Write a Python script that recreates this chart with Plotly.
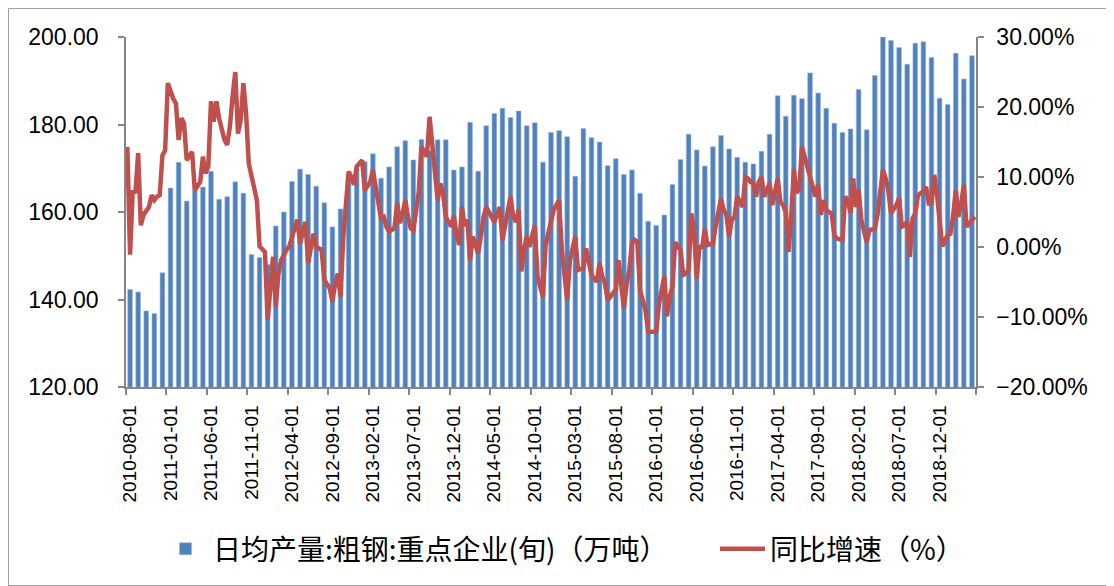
import plotly.graph_objects as go
import pandas as pd

# Categories: monthly bars, dekad (旬) line points
months = [d.strftime("%Y-%m-%d") for d in pd.date_range("2010-08-01", "2019-04-01", freq="MS")]
dekads = [f"{m[:8]}{d}" for m in months for d in ("01", "11", "21")]

# 日均产量:粗钢:重点企业(旬)（万吨）
output = [
    142.3, 141.7, 137.4, 136.8, 146.1, 165.5, 171.4, 162.5, 164.9, 165.7,
    169.3, 162.9, 163.5, 166.9, 164.3, 150.3, 149.6, 148.0, 156.8, 160.0,
    167.0, 169.8, 168.6, 165.9, 162.1, 156.6, 160.7, 168.0, 170.0, 171.5,
    173.3, 167.7, 170.3, 174.9, 176.3, 171.9, 176.6, 174.0, 176.5, 176.5,
    169.6, 170.3, 180.5, 169.3, 179.7, 182.5, 183.7, 181.6, 183.1, 179.7,
    180.4, 171.4, 178.2, 178.6, 177.2, 168.2, 179.1, 177.0, 176.0, 170.6,
    172.2, 168.6, 169.6, 164.3, 157.9, 156.9, 159.3, 166.3, 172.0, 177.8,
    174.2, 170.5, 174.9, 177.5, 174.4, 172.5, 171.4, 171.0, 173.9, 177.8,
    186.6, 181.9, 186.7, 185.9, 191.8, 187.2, 183.7, 180.3, 178.2, 179.0,
    188.0, 178.8, 191.2, 200.0, 199.2, 197.6, 193.8, 198.6, 198.9, 195.3,
    186.0, 184.6, 196.3, 190.4, 195.7,
]

# 同比增速（%）
yoy = [
    14.3, -1.1, 8.1, 7.7, 13.4, 3.1, 4.6, 5.3, 5.7, 7.4,
    6.7, 7.2, 7.4, 13.1, 13.8, 23.4, 22.2, 21.2, 20.5, 15.3,
    18.4, 17.7, 12.4, 12.9, 13.6, 8.1, 8.6, 9.3, 12.9, 10.5,
    11.5, 20.8, 17.9, 20.8, 18.4, 16.7, 15.3, 14.6, 17.2, 21.5,
    25.0, 16.2, 18.1, 23.4, 19.1, 11.9, 9.9, 8.1, 6.7, 0.1,
    -0.4, -0.7, -10.4, -4.7, -1.4, -8.5, -3.8, -1.9, -1.1, -0.4,
    0.1, 1.5, 2.7, 3.9, 0.5, 2.2, 3.6, -2.3, 0.0, 1.9,
    0.0, -0.2, -0.4, -4.7, -5.4, -5.9, -7.8, -5.2, -3.8, -7.1,
    1.3, 6.3, 10.8, 10.0, 8.9, 11.5, 11.9, 12.4, 8.1, 8.6,
    9.3, 11.0, 8.6, 6.3, 4.1, 4.3, 2.9, 2.2, 2.4, 2.7,
    6.3, 3.4, 4.8, 6.7, 4.3, 2.7, 2.4, 5.3, 7.9, 14.3,
    13.6, 12.9, 18.6, 14.8, 11.0, 6.7, 9.1, 7.7, 4.3, 3.6,
    2.9, 4.5, 1.7, 0.3, 5.7, 3.0, 3.9, -1.9, 1.5, 0.3,
    -0.9, 1.5, 4.3, 5.7, 5.0, 4.3, 3.6, 4.6, 5.7, 1.0,
    3.4, 5.3, 7.2, 4.3, 3.6, 5.3, -3.5, -0.4, 1.5, 0.0,
    1.9, 3.1, -4.2, -5.7, -7.1, 0.3, 1.9, 3.4, 5.3, 6.0,
    6.7, -0.4, -4.2, -7.6, -1.9, 0.0, 1.5, -3.3, -3.2, -3.0,
    -0.2, -1.9, -4.0, -4.5, -5.0, -2.3, -4.2, -5.2, -7.6, -7.1,
    -6.6, -6.1, -1.9, -5.7, -8.8, -5.4, -3.3, 0.5, 1.0, 0.7,
    -6.2, -7.6, -9.0, -12.1, -12.1, -12.1, -12.1, -8.1, -6.2, -4.2,
    -9.9, -7.1, -5.7, 0.7, 0.0, -0.4, -4.0, -3.8, -3.3, 4.8,
    2.4, -4.5, 0.0, 0.0, 2.6, 0.3, 0.4, 0.5, 2.9, 5.3,
    6.9, 5.3, 4.6, 1.5, 3.9, 4.3, 7.2, 6.5, 5.7, 10.0,
    9.8, 9.3, 9.1, 7.2, 9.3, 10.0, 7.2, 8.1, 9.1, 6.0,
    7.7, 9.8, 6.5, 6.0, 5.0, -0.7, 4.3, 11.0, 7.7, 8.3,
    14.3, 12.9, 11.0, 9.6, 8.1, 7.2, 8.9, 4.6, 6.7, 5.3,
    5.0, 4.8, 1.7, 1.2, 1.1, 1.0, 7.2, 6.7, 4.8, 9.8,
    5.7, 8.1, 3.9, 2.4, 0.7, 2.4, 2.5, 2.6, 4.6, 7.7,
    11.0, 9.8, 8.1, 4.8, 5.3, 6.0, 7.0, 2.9, 3.1, 3.6,
    -1.4, 4.1, 4.8, 7.4, 7.7, 7.9, 8.6, 6.2, 6.2, 10.3,
    7.7, 3.9, 0.1, 1.0, 1.7, 1.9, 4.3, 8.1, 4.3, 6.2,
    8.9, 2.9, 3.4, 3.9, 4.3,
]

bar_name = "日均产量:粗钢:重点企业(旬)（万吨）"
line_name = "同比增速（%）"

AXIS_COLOR = "#868686"
TICK_FONT = dict(family="Liberation Sans, Arial, sans-serif", size=23, color="#000000")
LEGEND_FONT = dict(family="Noto Sans CJK SC", size=28, color="#000000")

# figure is placed at an 8px page offset by the browser; plot area 850x350
W, H = 1106, 578
L, T, PW, PH = 118, 29, 850, 350

fig = go.Figure()
fig.add_trace(go.Bar(
    x=months, y=output, name=bar_name, legend="legend",
    marker=dict(color="#4F81BD", line=dict(color="#9DB9DE", width=0.6)),
    width=0.58, xaxis="x", yaxis="y",
))
fig.add_trace(go.Scatter(
    x=dekads, y=yoy, name=line_name, mode="lines", legend="legend2",
    line=dict(color="#C0504D", width=4.5),
    xaxis="x2", yaxis="y2",
))

fig.update_layout(
    width=W, height=H,
    margin=dict(l=L, r=W - L - PW, t=T, b=H - T - PH, autoexpand=False),
    paper_bgcolor="white", plot_bgcolor="white",
    showlegend=True,
    legend=dict(
        orientation="h", x=(150 - L) / PW, xanchor="left", y=-0.463, yanchor="middle",
        font=LEGEND_FONT, itemwidth=45,
    ),
    legend2=dict(
        orientation="h", x=(707 - L) / PW, xanchor="left", y=-0.463, yanchor="middle",
        font=LEGEND_FONT, itemwidth=45,
    ),
    xaxis=dict(
        type="category", range=[-0.5, len(months) - 0.5],
        tickson="boundaries", tick0=0, dtick=5, tickangle=-90,
        showline=True, linecolor=AXIS_COLOR, linewidth=1.5,
        ticks="outside", ticklen=6, tickcolor=AXIS_COLOR, tickwidth=1.5,
        ticklabelstandoff=9,
        showgrid=False, zeroline=False,
        tickfont=dict(family="Liberation Sans, Arial, sans-serif", size=19, color="#000000"),
    ),
    xaxis2=dict(
        type="category", range=[-0.5, len(dekads) - 0.5],
        overlaying="x", anchor="y2", side="top", visible=False,
    ),
    yaxis=dict(
        range=[120, 200], dtick=20, tickformat=".2f",
        showline=True, linecolor=AXIS_COLOR, linewidth=1.5,
        ticks="outside", ticklen=6, tickcolor=AXIS_COLOR, tickwidth=1.5,
        ticklabelstandoff=15,
        showgrid=False, zeroline=False, tickfont=TICK_FONT,
    ),
    yaxis2=dict(
        range=[-20, 30], dtick=10, tickformat=".2f", ticksuffix="%",
        overlaying="y", side="right",
        showline=True, linecolor=AXIS_COLOR, linewidth=1.5,
        ticks="outside", ticklen=6, tickcolor=AXIS_COLOR, tickwidth=1.5,
        ticklabelstandoff=8,
        showgrid=False, zeroline=False, tickfont=TICK_FONT,
    ),
    shapes=[dict(
        type="rect", xref="paper", yref="paper",
        x0=(0.5 - L) / PW, x1=(W - 0.5 - L) / PW,
        y0=-(H - 0.5 - T - PH) / PH, y1=(PH + T - 0.5) / PH,
        line=dict(color="#A0A0A0", width=1), fillcolor="rgba(0,0,0,0)", layer="below",
    )],
)

fig.write_html("out.html")
